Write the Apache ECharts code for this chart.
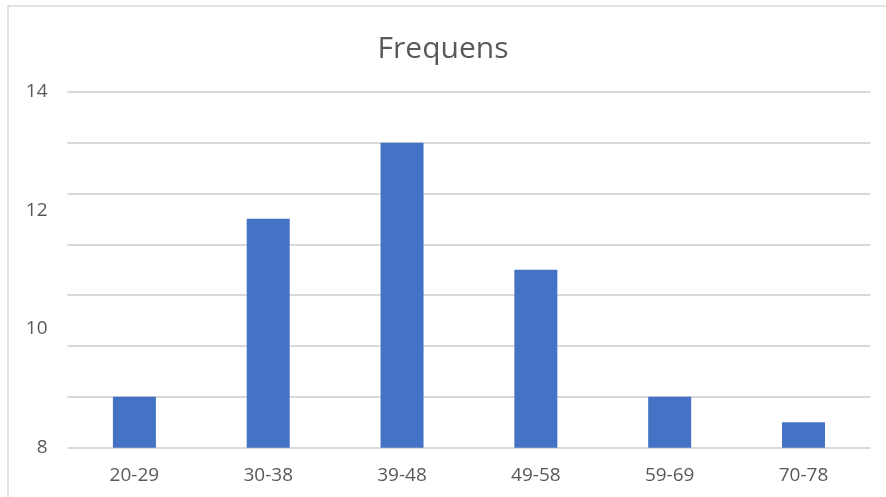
<!DOCTYPE html>
<html>
<head>
<meta charset="utf-8">
<script src="https://cdn.jsdelivr.net/npm/echarts@6/dist/echarts.min.js"></script>
<style>
  html, body { margin: 0; padding: 0; background: #ffffff; }
  #chart { width: 886px; height: 497px; }
</style>
</head>
<body>
<div id="chart"></div>
<script>
const categories = ["20-29", "30-38", "39-48", "49-58", "59-69", "70-78"];
const frequencies = [8.86, 11.86, 13.14, 11.0, 8.86, 8.43];
const titleText = "Frequens";
const labelAxisMin = 8, labelAxisMax = 14, labelAxisStep = 2;
const gridDivisions = 7;

const chart = echarts.init(document.getElementById('chart'), null, { renderer: 'canvas' });
chart.setOption({
  backgroundColor: '#ffffff',
  animation: false,
  title: {
    text: titleText,
    left: 'center',
    top: 29,
    textStyle: { fontFamily: 'Open Sans', fontSize: 30, fontWeight: 'normal', color: '#595959' }
  },
  graphic: [{
    type: 'rect',
    shape: { x: 8, y: 6, width: 900, height: 520 },
    style: { fill: 'none', stroke: '#d9d9d9', lineWidth: 1.5 },
    silent: true,
    z: -1
  }],
  grid: { left: 67.5, right: 15.6, top: 91.7, bottom: 49.3, containLabel: false },
  xAxis: {
    type: 'category',
    data: categories,
    axisLine: { show: false },
    axisTick: { show: false },
    axisLabel: { fontFamily: 'Open Sans', fontSize: 19, color: '#595959', margin: 18 }
  },
  yAxis: [{
    type: 'value',
    min: labelAxisMin,
    max: labelAxisMax,
    interval: labelAxisStep,
    axisLine: { show: false },
    axisTick: { show: false },
    splitLine: { show: false },
    axisLabel: { fontFamily: 'Open Sans', fontSize: 19, color: '#595959', margin: 20 }
  }, {
    type: 'value',
    position: 'left',
    min: 0,
    max: gridDivisions,
    interval: 1,
    axisLine: { show: false },
    axisTick: { show: false },
    axisLabel: { show: false },
    splitLine: { show: true, lineStyle: { color: '#d9d9d9', width: 2 } }
  }],
  series: [{
    type: 'bar',
    yAxisIndex: 0,
    data: frequencies,
    barWidth: 43,
    itemStyle: { color: '#4472c4' },
    z: 3
  }]
});
</script>
</body>
</html>
